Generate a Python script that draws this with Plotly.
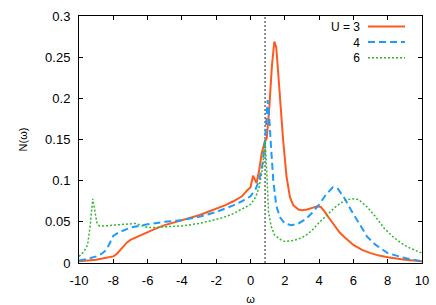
import plotly.graph_objects as go

# ---- data ----
omega_u3 = [-10, -9.5, -9, -8.5, -8, -7.8, -7.6, -7.4, -7.2, -7, -6.5, -6, -5.5, -5, -4.5, -4, -3.5, -3,
            -2.5, -2, -1.5, -1, -0.5, -0.2, 0, 0.15, 0.35, 0.5, 0.65, 0.8, 0.95, 1.1, 1.25, 1.39, 1.5,
            1.6, 1.75, 1.9, 2.1, 2.3, 2.5, 2.8, 3.0, 3.3, 3.6, 3.9, 4.1, 4.3, 4.6, 4.9, 5.2, 5.5, 6,
            6.5, 7, 7.5, 8, 9, 10]
dos_u3 = [0.002, 0.003, 0.004, 0.006, 0.008, 0.011, 0.016, 0.021, 0.025, 0.028, 0.033, 0.038, 0.042,
          0.046, 0.049, 0.052, 0.055, 0.058, 0.062, 0.066, 0.070, 0.075, 0.081, 0.088, 0.092, 0.106,
          0.097, 0.112, 0.133, 0.145, 0.152, 0.19, 0.24, 0.269, 0.262, 0.235, 0.19, 0.15, 0.105, 0.080,
          0.070, 0.065, 0.064, 0.065, 0.067, 0.069, 0.068, 0.063, 0.054, 0.045, 0.037, 0.031, 0.022,
          0.016, 0.012, 0.009, 0.007, 0.004, 0.002]

omega_u4 = [-10, -9.5, -9, -8.7, -8.4, -8.2, -8.0, -7.7, -7.4, -7, -6.5, -6, -5, -4, -3, -2, -1.5, -1,
            -0.5, 0, 0.3, 0.5, 0.7, 0.85, 1.0, 1.1, 1.2, 1.33, 1.5, 1.7, 2.0, 2.4, 2.8, 3.2, 3.6, 4.0,
            4.4, 4.8, 5.1, 5.5, 5.9, 6.3, 6.8, 7.3, 8, 9, 10]
dos_u4 = [0.003, 0.005, 0.008, 0.011, 0.016, 0.024, 0.033, 0.037, 0.040, 0.043, 0.045, 0.047, 0.050,
          0.052, 0.056, 0.062, 0.066, 0.070, 0.075, 0.081, 0.090, 0.100, 0.120, 0.150, 0.198, 0.175,
          0.140, 0.100, 0.070, 0.056, 0.048, 0.046, 0.048, 0.053, 0.061, 0.071, 0.083, 0.092, 0.090,
          0.078, 0.063, 0.049, 0.032, 0.022, 0.012, 0.006, 0.002]

omega_u6 = [-10, -9.7, -9.5, -9.35, -9.2, -9.05, -8.95, -8.8, -8.5, -8, -7.5, -7, -6.7, -6.4, -6, -5.5,
            -5, -4, -3, -2, -1.5, -1, -0.5, 0, 0.3, 0.5, 0.7, 0.85, 0.95, 1.05, 1.2, 1.4, 1.7, 2.0, 2.4,
            2.8, 3.2, 3.6, 4.0, 4.5, 5.0, 5.5, 5.9, 6.3, 6.8, 7.3, 7.8, 8.3, 8.8, 9.3, 10]
dos_u6 = [0.008, 0.014, 0.022, 0.045, 0.078, 0.062, 0.048, 0.045, 0.045, 0.046, 0.047, 0.048, 0.048,
          0.046, 0.043, 0.043, 0.044, 0.045, 0.048, 0.053, 0.056, 0.060, 0.065, 0.071, 0.080, 0.092,
          0.115, 0.150, 0.110, 0.062, 0.045, 0.034, 0.029, 0.026, 0.027, 0.029, 0.033, 0.040, 0.049,
          0.059, 0.069, 0.076, 0.078, 0.077, 0.068, 0.056, 0.042, 0.032, 0.024, 0.018, 0.012]

chem_potential = 0.85
legend_labels = ["U = 3", "4", "6"]
x_ticks = [-10, -8, -6, -4, -2, 0, 2, 4, 6, 8, 10]
y_ticks = [0, 0.05, 0.1, 0.15, 0.2, 0.25, 0.3]
y_tick_text = ["0", "0.05", "0.1", "0.15", "0.2", "0.25", "0.3"]

# ---- styles ----
FONT = "Liberation Sans, Arial, Helvetica, sans-serif"
styles = [
    dict(color="#ff5a1e", width=2, dash="solid"),
    dict(color="#1c9cff", width=2, dash="7px,4px"),
    dict(color="#2eb82e", width=1.5, dash="2px,2px"),
]

fig = go.Figure()
series = [(omega_u3, dos_u3), (omega_u4, dos_u4), (omega_u6, dos_u6)]
for (xs, ys), st in zip(series, styles):
    fig.add_trace(go.Scatter(x=xs, y=ys, mode="lines", line=st, showlegend=False))

# vertical dotted line at chemical potential
fig.add_shape(type="line", x0=chem_potential, x1=chem_potential, xref="x", y0=0, y1=1, yref="paper",
              line=dict(color="#6a6a6a", width=1.5, dash="2px,2px"), layer="below")

# custom legend (text right-aligned, sample to the right)
W, H = 436, 305
ml, mr, mt, mb = 79, 14, 16, 42
pw, ph = W - ml - mr, H - mt - mb
def px_to_paper(px, py):
    return (px - ml) / pw, 1 - (py - mt) / ph

LEG_FS = 12
line_h = LEG_FS * 1.3
first_row = 26.5
tx, ty = px_to_paper(361, first_row - LEG_FS * 0.65)
fig.add_annotation(x=tx, y=ty, xref="paper", yref="paper", text="<br>".join(legend_labels),
                   showarrow=False, align="right", xanchor="right", yanchor="top", borderpad=0,
                   font=dict(family=FONT, size=LEG_FS, color="black"))
for i, st in enumerate(styles):
    ry = first_row + i * line_h
    x0, y0 = px_to_paper(368, ry)
    x1, _ = px_to_paper(405, ry)
    fig.add_shape(type="line", xref="paper", yref="paper", x0=x0, x1=x1, y0=y0, y1=y0, line=st)

axis_common = dict(showline=True, linecolor="black", linewidth=1, mirror="ticks", ticks="inside",
                   ticklen=4, tickcolor="black", showgrid=False, zeroline=False, automargin=False,
                   tickfont=dict(family=FONT, size=13, color="black"))

fig.update_xaxes(range=[-10, 10], tickvals=x_ticks, ticktext=[str(v) for v in x_ticks],
                 ticklabelstandoff=5,
                 title=dict(text="ω", font=dict(family=FONT, size=11, color="black")),
                 **axis_common)
fig.update_yaxes(range=[0, 0.3], tickvals=y_ticks, ticktext=y_tick_text, ticklabelstandoff=5,
                 title=dict(text="N(ω)", font=dict(family=FONT, size=11, color="black")),
                 **axis_common)

fig.update_layout(width=W, height=H, margin=dict(l=ml, r=mr, t=mt, b=mb),
                  plot_bgcolor="white", paper_bgcolor="white", showlegend=False)

fig.write_html("out.html", config={"displayModeBar": False, "staticPlot": True},
               post_script="document.body.style.margin='0';document.body.style.overflow='hidden';")
